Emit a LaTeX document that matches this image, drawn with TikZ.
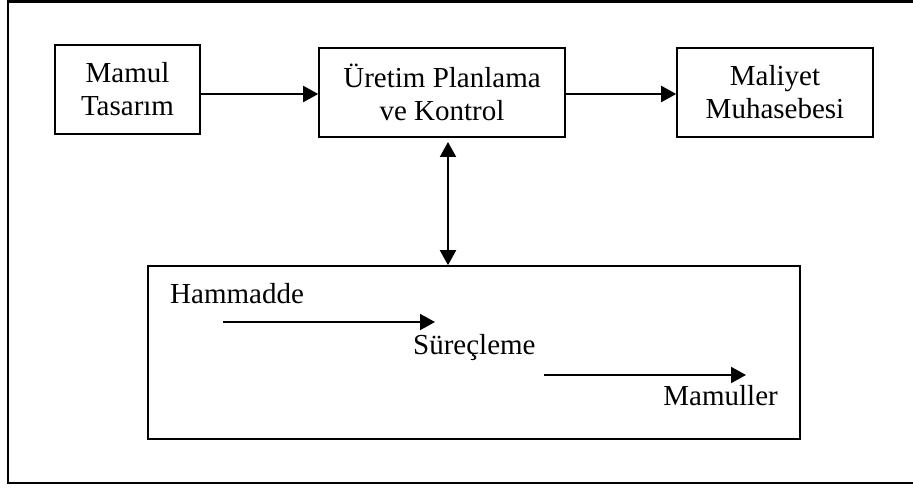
\documentclass[tikz,border=0pt]{standalone}
\usepackage{fontspec}
\setmainfont{Liberation Serif}
\usetikzlibrary{arrows.meta}
\begin{document}
\begin{tikzpicture}[x=1pt,y=-1pt,
  every node/.style={font=\fontsize{29}{33}\selectfont},
  blockbox/.style={draw,line width=1.6pt,align=center,inner sep=0pt},
  label/.style={inner sep=0pt},
  flow/.style={line width=2pt,-{Triangle[length=15pt,width=16pt]}},
  bothflow/.style={line width=2pt,{Triangle[length=15pt,width=16pt]}-{Triangle[length=15pt,width=16pt]}}]
\useasboundingbox (0,0) rectangle (913,489);

% outer frame, open on the right
\coordinate (fTR) at (913,1.5);
\coordinate (fTL) at (8,1.5);
\coordinate (fBL) at (8,483);
\coordinate (fBR) at (913,483);
\draw[line width=2.4pt] (fTR) -- (fTL) -- (fBL) -- (fBR);

% upper blocks
\node[blockbox,minimum width=145pt,minimum height=89pt] (design) at (127.5,89.5) {Mamul\\Tasarım};
\node[blockbox,minimum width=246pt,minimum height=89pt] (plan) at (442,92.5) {Üretim Planlama\\ve Kontrol};
\node[blockbox,minimum width=196pt,minimum height=89pt] (cost) at (775,92.5) {Maliyet\\Muhasebesi};

\draw[flow] (design.east |- 0,94) -- (plan.west |- 0,94);
\draw[flow] (plan.east |- 0,94) -- (cost.west |- 0,94);

% production block
\node[blockbox,minimum width=652pt,minimum height=173pt] (prod) at (474,352.5) {};

\coordinate (vTop) at (448,142);
\draw[bothflow] (vTop) -- (vTop |- prod.north);

\node[label,anchor=base west] (raw) at (170,303) {Hammadde};
\node[label,anchor=base west] (proc) at (413,354) {Süreçleme};
\node[label,anchor=base east] (goods) at (778,405) {Mamuller};

\coordinate (a1) at (223,322);
\coordinate (a2) at (435,322);
\coordinate (b1) at (544,375);
\coordinate (b2) at (746,375);
\draw[flow] (a1) -- (a2);
\draw[flow] (b1) -- (b2);
\end{tikzpicture}
\end{document}
